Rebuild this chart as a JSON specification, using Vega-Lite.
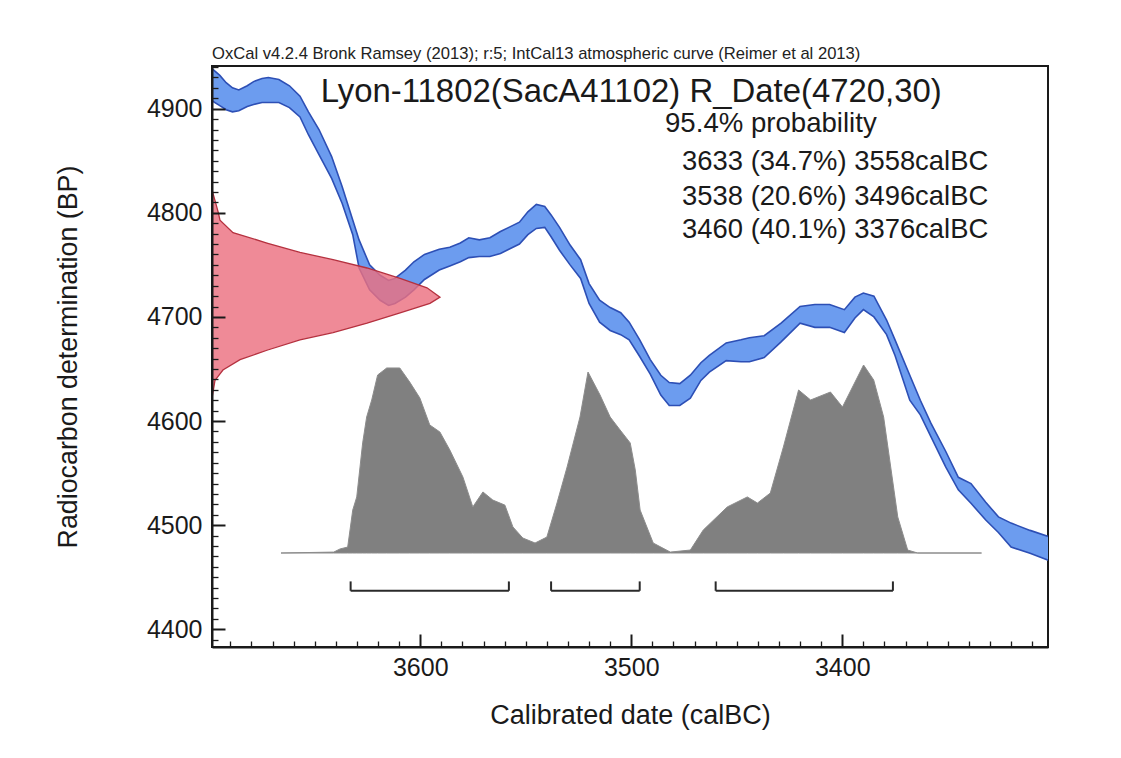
{
  "$schema": "https://vega.github.io/schema/vega-lite/v6.json",
  "width": 836,
  "height": 581,
  "autosize": {"type": "none"},
  "padding": {"left": 212, "top": 66, "right": 73, "bottom": 111},
  "background": "white",
  "config": {
    "view": {"stroke": "#1a1a1a", "strokeWidth": 2},
    "font": "Liberation Sans",
    "axis": {
      "labelFont": "Liberation Sans",
      "titleFont": "Liberation Sans",
      "labelColor": "#1a1a1a",
      "titleColor": "#1a1a1a",
      "titleFontWeight": "normal",
      "grid": false,
      "domainColor": "#1a1a1a",
      "tickColor": "#1a1a1a"
    }
  },
  "title": {
    "text": "OxCal v4.2.4 Bronk Ramsey (2013); r:5; IntCal13 atmospheric curve (Reimer et al 2013)",
    "anchor": "start",
    "frame": "group",
    "fontSize": 16.6,
    "fontWeight": "normal",
    "font": "Liberation Sans",
    "color": "#222222",
    "offset": 3
  },
  "datasets": {
    "band": [
      {"year": 3699, "upper": 4939, "lower": 4908},
      {"year": 3695, "upper": 4932, "lower": 4903},
      {"year": 3692, "upper": 4925, "lower": 4899},
      {"year": 3689, "upper": 4920, "lower": 4897},
      {"year": 3686, "upper": 4918, "lower": 4898},
      {"year": 3682, "upper": 4922, "lower": 4902},
      {"year": 3679, "upper": 4926, "lower": 4904},
      {"year": 3675, "upper": 4929, "lower": 4906},
      {"year": 3672, "upper": 4930, "lower": 4906},
      {"year": 3667, "upper": 4928, "lower": 4906},
      {"year": 3662, "upper": 4922, "lower": 4901},
      {"year": 3657, "upper": 4912, "lower": 4892},
      {"year": 3653, "upper": 4897, "lower": 4875},
      {"year": 3648, "upper": 4880, "lower": 4856},
      {"year": 3642, "upper": 4854, "lower": 4833},
      {"year": 3637, "upper": 4825, "lower": 4809},
      {"year": 3632, "upper": 4793, "lower": 4779},
      {"year": 3629, "upper": 4774, "lower": 4747},
      {"year": 3624, "upper": 4750, "lower": 4726},
      {"year": 3619, "upper": 4740, "lower": 4716},
      {"year": 3615, "upper": 4735, "lower": 4711},
      {"year": 3612, "upper": 4737, "lower": 4713},
      {"year": 3607, "upper": 4745, "lower": 4719},
      {"year": 3603, "upper": 4753, "lower": 4726},
      {"year": 3598, "upper": 4760, "lower": 4736},
      {"year": 3591, "upper": 4765, "lower": 4745},
      {"year": 3586, "upper": 4767, "lower": 4749},
      {"year": 3581, "upper": 4771, "lower": 4753},
      {"year": 3577, "upper": 4776, "lower": 4757},
      {"year": 3572, "upper": 4774, "lower": 4758},
      {"year": 3567, "upper": 4776, "lower": 4758},
      {"year": 3562, "upper": 4782, "lower": 4761},
      {"year": 3558, "upper": 4786, "lower": 4765},
      {"year": 3553, "upper": 4791, "lower": 4770},
      {"year": 3549, "upper": 4801, "lower": 4779},
      {"year": 3545, "upper": 4808, "lower": 4785},
      {"year": 3541, "upper": 4806, "lower": 4786},
      {"year": 3538, "upper": 4798, "lower": 4777},
      {"year": 3534, "upper": 4786, "lower": 4764},
      {"year": 3529, "upper": 4769, "lower": 4750},
      {"year": 3524, "upper": 4755, "lower": 4737},
      {"year": 3520, "upper": 4732, "lower": 4713},
      {"year": 3515, "upper": 4716, "lower": 4695},
      {"year": 3510, "upper": 4709, "lower": 4687},
      {"year": 3505, "upper": 4704, "lower": 4683},
      {"year": 3501, "upper": 4695, "lower": 4678},
      {"year": 3496, "upper": 4678, "lower": 4662},
      {"year": 3491, "upper": 4659, "lower": 4645},
      {"year": 3486, "upper": 4644, "lower": 4625},
      {"year": 3482, "upper": 4637, "lower": 4615},
      {"year": 3477, "upper": 4636, "lower": 4615},
      {"year": 3472, "upper": 4644, "lower": 4622},
      {"year": 3467, "upper": 4656, "lower": 4639},
      {"year": 3463, "upper": 4663, "lower": 4647},
      {"year": 3455, "upper": 4675, "lower": 4658},
      {"year": 3448, "upper": 4678, "lower": 4657},
      {"year": 3444, "upper": 4680, "lower": 4657},
      {"year": 3437, "upper": 4682, "lower": 4661},
      {"year": 3429, "upper": 4694, "lower": 4676},
      {"year": 3420, "upper": 4710, "lower": 4694},
      {"year": 3413, "upper": 4712, "lower": 4690},
      {"year": 3406, "upper": 4712, "lower": 4690},
      {"year": 3399, "upper": 4707, "lower": 4685},
      {"year": 3394, "upper": 4719, "lower": 4699},
      {"year": 3390, "upper": 4723, "lower": 4707},
      {"year": 3385, "upper": 4720, "lower": 4700},
      {"year": 3379, "upper": 4697, "lower": 4683},
      {"year": 3375, "upper": 4678, "lower": 4663},
      {"year": 3368, "upper": 4644, "lower": 4620},
      {"year": 3363, "upper": 4620, "lower": 4606},
      {"year": 3358, "upper": 4598, "lower": 4585},
      {"year": 3351, "upper": 4571, "lower": 4556},
      {"year": 3345, "upper": 4546, "lower": 4534},
      {"year": 3339, "upper": 4540, "lower": 4521},
      {"year": 3332, "upper": 4522, "lower": 4505},
      {"year": 3326, "upper": 4508, "lower": 4493},
      {"year": 3320, "upper": 4502, "lower": 4479},
      {"year": 3311, "upper": 4495, "lower": 4473},
      {"year": 3302, "upper": 4489, "lower": 4466}
    ],
    "dist": [
      {"bp": 4822, "d": 0},
      {"bp": 4812, "d": 0.013},
      {"bp": 4800, "d": 0.028},
      {"bp": 4793, "d": 0.035},
      {"bp": 4781, "d": 0.092},
      {"bp": 4771, "d": 0.241},
      {"bp": 4762, "d": 0.386},
      {"bp": 4755, "d": 0.531},
      {"bp": 4747, "d": 0.68},
      {"bp": 4737, "d": 0.825},
      {"bp": 4728, "d": 0.943},
      {"bp": 4719, "d": 1.0},
      {"bp": 4713, "d": 0.956},
      {"bp": 4704, "d": 0.825},
      {"bp": 4694, "d": 0.68},
      {"bp": 4685, "d": 0.531},
      {"bp": 4678, "d": 0.386},
      {"bp": 4668, "d": 0.241},
      {"bp": 4659, "d": 0.123},
      {"bp": 4649, "d": 0.048},
      {"bp": 4639, "d": 0.013},
      {"bp": 4627, "d": 0.004},
      {"bp": 4622, "d": 0}
    ],
    "prob": [
      {"year": 3666, "p": 0},
      {"year": 3641, "p": 0.005},
      {"year": 3638, "p": 0.022},
      {"year": 3634.4, "p": 0.032},
      {"year": 3632, "p": 0.232},
      {"year": 3630.1, "p": 0.303},
      {"year": 3627.3, "p": 0.595},
      {"year": 3625.4, "p": 0.735},
      {"year": 3623, "p": 0.827},
      {"year": 3620.2, "p": 0.962},
      {"year": 3615.9, "p": 1.0},
      {"year": 3609.7, "p": 1.0},
      {"year": 3605, "p": 0.924},
      {"year": 3600.2, "p": 0.838},
      {"year": 3595.5, "p": 0.692},
      {"year": 3590.7, "p": 0.654},
      {"year": 3586, "p": 0.557},
      {"year": 3579.8, "p": 0.411},
      {"year": 3575.1, "p": 0.249},
      {"year": 3570.3, "p": 0.33},
      {"year": 3565.6, "p": 0.286},
      {"year": 3559.9, "p": 0.259},
      {"year": 3556.1, "p": 0.141},
      {"year": 3551.4, "p": 0.081},
      {"year": 3545.6, "p": 0.054},
      {"year": 3540, "p": 0.086},
      {"year": 3535.2, "p": 0.27},
      {"year": 3530.4, "p": 0.465},
      {"year": 3524.3, "p": 0.735},
      {"year": 3520.5, "p": 0.978},
      {"year": 3514.8, "p": 0.854},
      {"year": 3510, "p": 0.735},
      {"year": 3505.3, "p": 0.665},
      {"year": 3500.5, "p": 0.595},
      {"year": 3498.1, "p": 0.449},
      {"year": 3495.8, "p": 0.232},
      {"year": 3489.6, "p": 0.054},
      {"year": 3481.5, "p": 0.005},
      {"year": 3472, "p": 0.016},
      {"year": 3465.9, "p": 0.124},
      {"year": 3454.5, "p": 0.249},
      {"year": 3445, "p": 0.303},
      {"year": 3440.2, "p": 0.27},
      {"year": 3434.1, "p": 0.324},
      {"year": 3427.9, "p": 0.573},
      {"year": 3420.7, "p": 0.881},
      {"year": 3415, "p": 0.827},
      {"year": 3405.6, "p": 0.87},
      {"year": 3399.9, "p": 0.789},
      {"year": 3389.9, "p": 1.016},
      {"year": 3385.1, "p": 0.935},
      {"year": 3380.4, "p": 0.735},
      {"year": 3373.7, "p": 0.195},
      {"year": 3369, "p": 0.016},
      {"year": 3364.3, "p": 0},
      {"year": 3334, "p": 0}
    ],
    "ranges": [
      {"from": 3633, "to": 3558, "pct": 34.7},
      {"from": 3538, "to": 3496, "pct": 20.6},
      {"from": 3460, "to": 3376, "pct": 40.1}
    ]
  },
  "resolve": {
    "scale": {"x": "independent", "y": "independent"},
    "axis": {"x": "independent", "y": "independent"}
  },
  "layer": [
    {
      "data": {"name": "prob"},
      "mark": {"type": "area", "color": "#808080", "stroke": "#8c8c8c", "strokeWidth": 1, "clip": true},
      "encoding": {
        "x": {"field": "year", "type": "quantitative", "scale": {"domain": [3302.5, 3698.7], "reverse": true, "nice": false, "zero": false}, "axis": null},
        "y": {"field": "p", "type": "quantitative", "scale": {"domain": [-0.508, 2.632], "nice": false, "zero": false}, "axis": null},
        "y2": {"datum": 0}
      }
    },
    {
      "layer": [
        {
          "data": {"name": "band"},
          "mark": {"type": "area", "color": "#6c9cef", "opacity": 1, "clip": true},
          "encoding": {
            "x": {
              "field": "year", "type": "quantitative",
              "scale": {"domain": [3302.5, 3698.7], "reverse": true, "nice": false, "zero": false},
              "axis": {"orient": "bottom", "values": [3600, 3500, 3400], "format": "d", "ticks": false, "domain": false, "labelFontSize": 25, "labelPadding": 8, "title": "Calibrated date (calBC)", "titleFontSize": 27, "titlePadding": 22}
            },
            "y": {
              "field": "upper", "type": "quantitative",
              "scale": {"domain": [4383, 4941], "nice": false, "zero": false},
              "axis": {"orient": "left", "values": [4400, 4500, 4600, 4700, 4800, 4900], "format": "d", "ticks": false, "domain": false, "labelFontSize": 25, "labelPadding": 10, "title": "Radiocarbon determination (BP)", "titleFontSize": 26.8, "titlePadding": 64}
            },
            "y2": {"field": "lower"}
          }
        },
        {
          "data": {"name": "band"},
          "mark": {"type": "line", "color": "#2d4fb5", "strokeWidth": 1.6, "clip": true},
          "encoding": {
            "x": {"field": "year", "type": "quantitative"},
            "y": {"field": "upper", "type": "quantitative"}
          }
        },
        {
          "data": {"name": "band"},
          "mark": {"type": "line", "color": "#2d4fb5", "strokeWidth": 1.6, "clip": true},
          "encoding": {
            "x": {"field": "year", "type": "quantitative"},
            "y": {"field": "lower", "type": "quantitative"}
          }
        },
        {
          "data": {"name": "ranges"},
          "mark": {"type": "rule", "color": "#2a2a2a", "strokeWidth": 2},
          "encoding": {
            "x": {"field": "from", "type": "quantitative"},
            "x2": {"field": "to"},
            "y": {"datum": 4437}
          }
        },
        {
          "data": {"name": "ranges"},
          "mark": {"type": "rule", "color": "#2a2a2a", "strokeWidth": 2},
          "encoding": {
            "x": {"field": "from", "type": "quantitative"},
            "y": {"datum": 4437},
            "y2": {"datum": 4446}
          }
        },
        {
          "data": {"name": "ranges"},
          "mark": {"type": "rule", "color": "#2a2a2a", "strokeWidth": 2},
          "encoding": {
            "x": {"field": "to", "type": "quantitative"},
            "y": {"datum": 4437},
            "y2": {"datum": 4446}
          }
        },
        {
          "data": {"values": [{"label": "Lyon-11802(SacA41102) R_Date(4720,30)", "year": 3647.2, "bp": 4916}]},
          "mark": {"type": "text", "align": "left", "baseline": "middle", "fontSize": 32.9, "font": "Liberation Sans", "color": "#1a1a1a"},
          "encoding": {
            "x": {"field": "year", "type": "quantitative"},
            "y": {"field": "bp", "type": "quantitative"},
            "text": {"field": "label"}
          }
        },
        {
          "data": {"values": [
            {"label": "95.4% probability", "year": 3484, "bp": 4885}
          ]},
          "mark": {"type": "text", "align": "left", "baseline": "middle", "fontSize": 27.6, "font": "Liberation Sans", "color": "#1a1a1a"},
          "encoding": {
            "x": {"field": "year", "type": "quantitative"},
            "y": {"field": "bp", "type": "quantitative"},
            "text": {"field": "label"}
          }
        },
        {
          "data": {"values": [
            {"label": "3633 (34.7%) 3558calBC", "year": 3475.9, "bp": 4849},
            {"label": "3538 (20.6%) 3496calBC", "year": 3475.9, "bp": 4815.5},
            {"label": "3460 (40.1%) 3376calBC", "year": 3475.9, "bp": 4783.5}
          ]},
          "mark": {"type": "text", "align": "left", "baseline": "middle", "fontSize": 27.4, "font": "Liberation Sans", "color": "#1a1a1a"},
          "encoding": {
            "x": {"field": "year", "type": "quantitative"},
            "y": {"field": "bp", "type": "quantitative"},
            "text": {"field": "label"}
          }
        }
      ]
    },
    {
      "data": {"name": "dist"},
      "mark": {"type": "area", "orient": "horizontal", "color": "#ec7080", "fillOpacity": 0.82, "stroke": "#b5313f", "strokeWidth": 1.3, "clip": true},
      "encoding": {
        "y": {"field": "bp", "type": "quantitative", "scale": {"domain": [4383, 4941], "nice": false, "zero": false}, "axis": null},
        "x": {"field": "d", "type": "quantitative", "scale": {"domain": [0, 3.667], "nice": false, "zero": false}, "axis": null},
        "x2": {"datum": 0}
      }
    },
    {
      "data": {"name": "band"},
      "mark": {"type": "point", "opacity": 0},
      "encoding": {
        "x": {
          "field": "year", "type": "quantitative",
          "scale": {"domain": [3302.5, 3698.7], "reverse": true, "nice": false, "zero": false},
          "axis": {"orient": "bottom", "values": [3600, 3500, 3400], "labels": false, "domain": true, "domainWidth": 2, "tickSize": -13, "tickWidth": 2, "title": null, "zindex": 2}
        },
        "y": {
          "field": "upper", "type": "quantitative",
          "scale": {"domain": [4383, 4941], "nice": false, "zero": false},
          "axis": {"orient": "left", "values": [4400, 4500, 4600, 4700, 4800, 4900], "labels": false, "domain": true, "domainWidth": 2, "tickSize": -13, "tickWidth": 2, "title": null, "zindex": 2}
        }
      }
    },
    {
      "data": {"name": "band"},
      "mark": {"type": "point", "opacity": 0},
      "encoding": {
        "x": {
          "field": "year", "type": "quantitative",
          "scale": {"domain": [3302.5, 3698.7], "reverse": true, "nice": false, "zero": false},
          "axis": {"orient": "bottom", "values": [3310, 3320, 3330, 3340, 3350, 3360, 3370, 3380, 3390, 3410, 3420, 3430, 3440, 3450, 3460, 3470, 3480, 3490, 3510, 3520, 3530, 3540, 3550, 3560, 3570, 3580, 3590, 3610, 3620, 3630, 3640, 3650, 3660, 3670, 3680, 3690], "labels": false, "domain": false, "tickSize": -6, "tickWidth": 1.3, "title": null, "zindex": 2}
        },
        "y": {
          "field": "upper", "type": "quantitative",
          "scale": {"domain": [4383, 4941], "nice": false, "zero": false},
          "axis": {"orient": "left", "values": [4390, 4410, 4420, 4430, 4440, 4450, 4460, 4470, 4480, 4490, 4510, 4520, 4530, 4540, 4550, 4560, 4570, 4580, 4590, 4610, 4620, 4630, 4640, 4650, 4660, 4670, 4680, 4690, 4710, 4720, 4730, 4740, 4750, 4760, 4770, 4780, 4790, 4810, 4820, 4830, 4840, 4850, 4860, 4870, 4880, 4890, 4910, 4920, 4930, 4940], "labels": false, "domain": false, "tickSize": -6, "tickWidth": 1.3, "title": null, "zindex": 2}
        }
      }
    }
  ]
}
